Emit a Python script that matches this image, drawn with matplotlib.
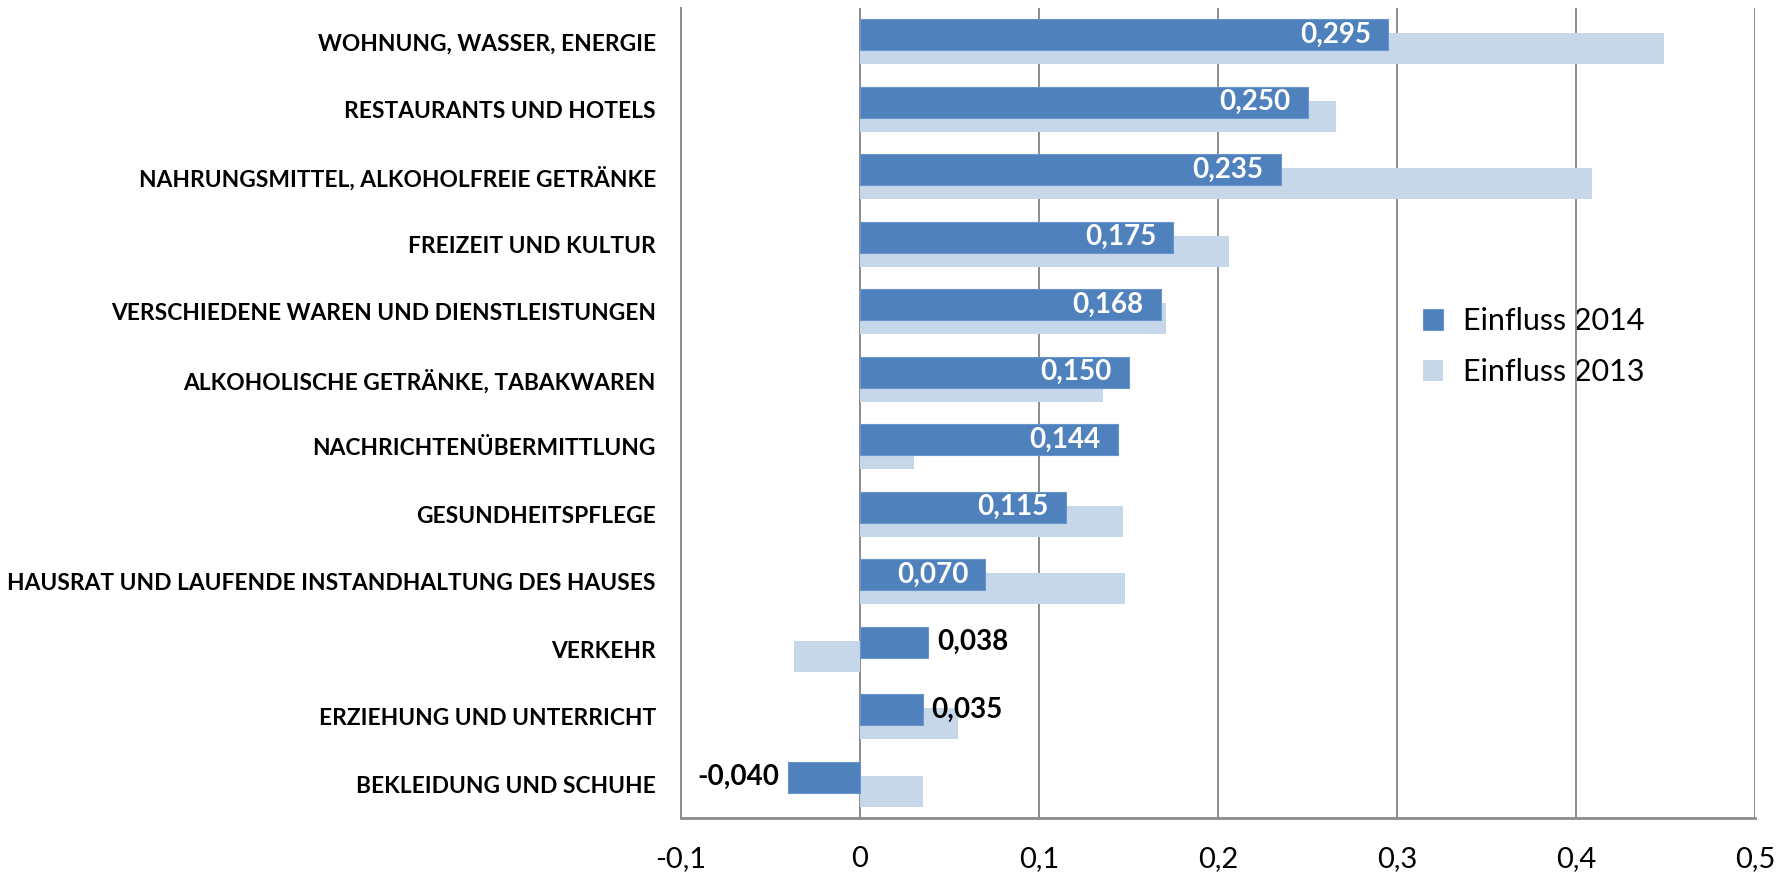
import matplotlib.pyplot as plt
import numpy as np

# Categories (top to bottom) and values
categories = [
    "WOHNUNG, WASSER, ENERGIE",
    "RESTAURANTS UND HOTELS",
    "NAHRUNGSMITTEL, ALKOHOLFREIE GETRÄNKE",
    "FREIZEIT UND KULTUR",
    "VERSCHIEDENE WAREN UND DIENSTLEISTUNGEN",
    "ALKOHOLISCHE GETRÄNKE, TABAKWAREN",
    "NACHRICHTENÜBERMITTLUNG",
    "GESUNDHEITSPFLEGE",
    "HAUSRAT UND LAUFENDE INSTANDHALTUNG DES HAUSES",
    "VERKEHR",
    "ERZIEHUNG UND UNTERRICHT",
    "BEKLEIDUNG UND SCHUHE",
]
einfluss_2014 = [0.295, 0.250, 0.235, 0.175, 0.168, 0.150, 0.144, 0.115, 0.070, 0.038, 0.035, -0.040]
einfluss_2013 = [0.449, 0.266, 0.409, 0.206, 0.171, 0.136, 0.030, 0.147, 0.148, -0.037, 0.055, 0.035]
x_ticks = [-0.1, 0, 0.1, 0.2, 0.3, 0.4, 0.5]

color_2014 = "#4F81BD"
color_2013 = "#C6D7EA"
grid_color = "#8C8C8C"
font = ["Lato", "DejaVu Sans"]

fig = plt.figure(figsize=(17.9, 8.75), dpi=100)
ax = fig.add_axes([681 / 1790, 1 - 818 / 875, (1755 - 681) / 1790, (818 - 8) / 875])

y = np.arange(len(categories))
bar_h = 0.46
off = 0.104
ax.barh(y + off, einfluss_2013, height=bar_h, color=color_2013, label="Einfluss 2013", zorder=2)
ax.barh(y - off, einfluss_2014, height=bar_h, color=color_2014, edgecolor="#6A95CB",
        linewidth=0.8, label="Einfluss 2014", zorder=3)

# value labels: inside for larger bars, outside for small ones
for yi, v in zip(y, einfluss_2014):
    txt = f"{v:.3f}".replace(".", ",")
    if v >= 0.06:
        dx, ha, col = -17, "right", "white"
    elif v >= 0:
        dx, ha, col = 9, "left", "black"
    else:
        dx, ha, col = -9, "right", "black"
    ax.annotate(txt, (v, yi - off), xytext=(dx, 0), textcoords="offset pixels",
                ha=ha, va="center", color=col, fontsize=20,
                fontweight="bold", family=font, zorder=4)

ax.set_xlim(-0.1, 0.5)
ax.set_ylim(len(categories) - 0.5, -0.5)
ax.set_xticks(x_ticks)
ax.set_xticklabels([f"{t:g}".replace(".", ",") for t in x_ticks], fontsize=21, family=font)
ax.set_yticks(y)
ax.set_yticklabels(categories, fontsize=16.4, fontweight="bold", family=font)
ax.tick_params(axis="y", length=0, pad=18)
ax.tick_params(axis="x", length=0, pad=20)

ax.grid(axis="x", color=grid_color, linewidth=1.4, zorder=1)
ax.set_axisbelow(True)
for s in ["top", "right"]:
    ax.spines[s].set_visible(False)
ax.spines["left"].set_color(grid_color)
ax.spines["left"].set_linewidth(1.4)
ax.spines["bottom"].set_color(grid_color)
ax.spines["bottom"].set_linewidth(2)

handles, labels = ax.get_legend_handles_labels()
leg = ax.legend(handles[::-1], labels[::-1], loc="upper left",
                bbox_to_anchor=((1411 - 681) / 1074, 1 - (295 - 8) / 810),
                frameon=False, prop={"family": font, "size": 22},
                handlelength=0.65, handleheight=0.65, handletextpad=0.65,
                labelspacing=0.75, borderaxespad=0)
leg.set_zorder(0)

fig.savefig("out.png", dpi=100)
